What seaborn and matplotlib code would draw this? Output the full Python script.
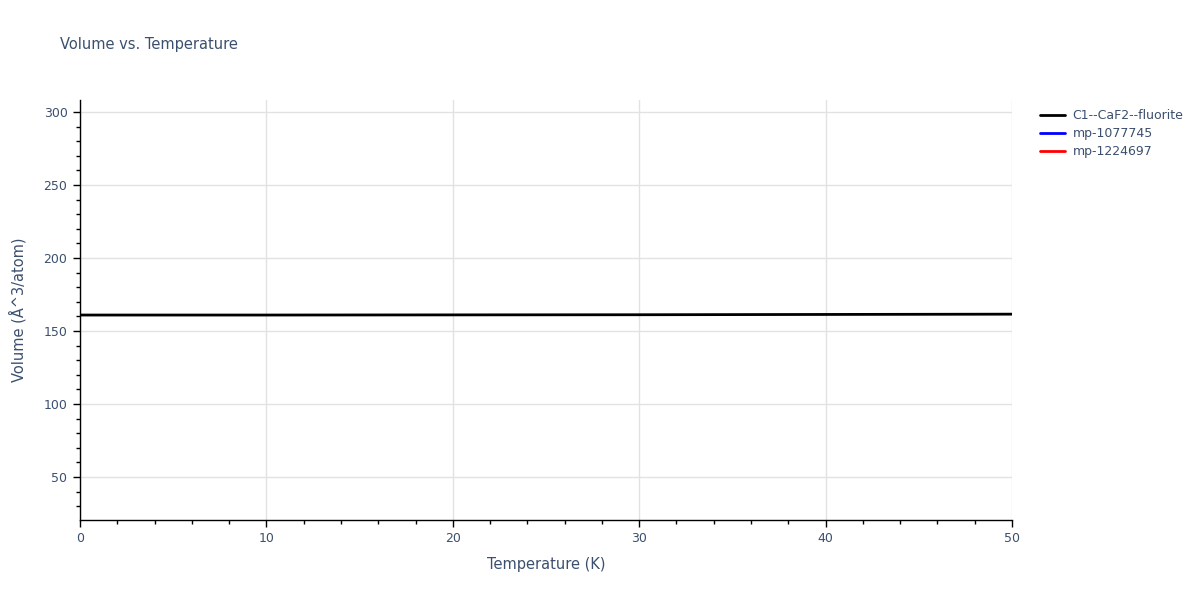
import numpy as np
import pandas as pd
import seaborn as sns
import matplotlib.pyplot as plt
from matplotlib.ticker import MultipleLocator
from matplotlib.lines import Line2D

# Data
temperature = [0, 10, 20, 30, 40, 50]
vol_fluorite = [160.9, 160.9, 161.0, 161.1, 161.3, 161.5]
vol_mp1077745 = []
vol_mp1224697 = []

series_names = ["C1--CaF2--fluorite", "mp-1077745", "mp-1224697"]
series_colors = ["black", "blue", "red"]

rows = []
for t, v in zip(temperature, vol_fluorite):
    rows.append({"Temperature": t, "Volume": v, "name": series_names[0]})
df = pd.DataFrame(rows)

text_color = "#3b4f6e"
grid_color = "#e2e2e2"

sns.set_style("white")
plt.rcParams["font.family"] = ["DejaVu Sans"]

fig = plt.figure(figsize=(12, 6), dpi=100)
ax = fig.add_axes([80 / 1200, 80 / 600, 932 / 1200, 420 / 600])

sns.lineplot(data=df, x="Temperature", y="Volume", hue="name",
             palette={series_names[0]: "black"}, linewidth=2, ax=ax, legend=False)

ax.set_xlim(0, 50)
ax.set_ylim(20.5, 308.2)
ax.xaxis.set_major_locator(MultipleLocator(10))
ax.xaxis.set_minor_locator(MultipleLocator(2))
ax.set_yticks([50, 100, 150, 200, 250, 300])
ax.yaxis.set_minor_locator(MultipleLocator(10))

ax.grid(True, which="major", color=grid_color, linewidth=1)
ax.set_axisbelow(True)
for side in ["top", "right"]:
    ax.spines[side].set_visible(False)
for side in ["left", "bottom"]:
    ax.spines[side].set_color("black")
    ax.spines[side].set_linewidth(1)

ax.tick_params(which="both", bottom=True, left=True)
ax.tick_params(which="major", direction="out", length=5, width=1, color="black",
               labelsize=9, labelcolor=text_color, pad=4)
ax.tick_params(which="minor", direction="out", length=3, width=1, color="black")

ax.set_xlabel("Temperature (K)", fontsize=10.5, color=text_color, labelpad=8)
ax.set_ylabel("Volume (Å^3/atom)", fontsize=10.5, color=text_color, labelpad=12)

fig.text(60 / 1200, 1 - 45 / 600, "Volume vs. Temperature", fontsize=10.5,
         color=text_color, va="center", ha="left")

handles = [Line2D([0], [0], color=c, linewidth=2) for c in series_colors]
fig.legend(handles, series_names, loc="upper left",
           bbox_to_anchor=(1035 / 1200, 1 - 104 / 600), frameon=False,
           fontsize=9, labelcolor=text_color, handlelength=2.0,
           handletextpad=0.6, labelspacing=0.42, borderaxespad=0)

fig.savefig("out.png", dpi=100)
